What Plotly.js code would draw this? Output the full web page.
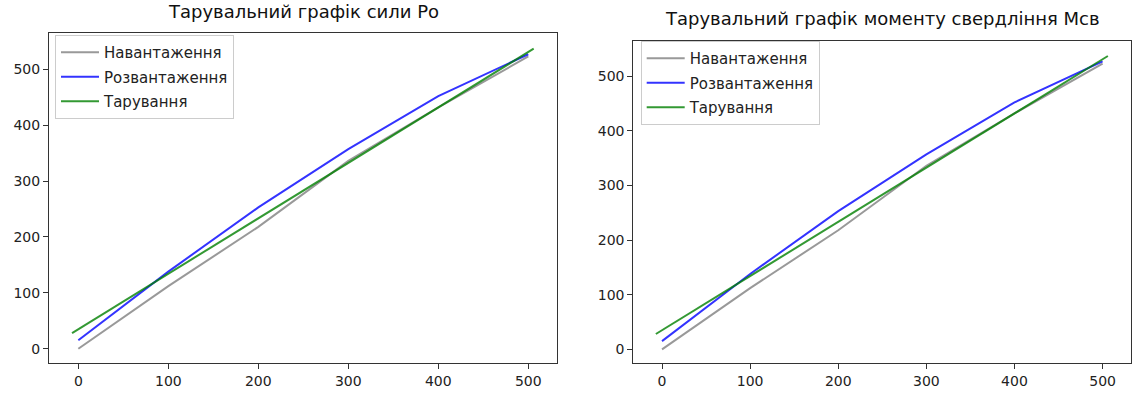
<!DOCTYPE html>
<html>
<head>
<meta charset="utf-8">
<script src="https://cdn.plot.ly/plotly-3.0.1.min.js"></script>
<style>html,body{margin:0;padding:0;background:#fff;}#chart{width:1133px;height:394px;}</style>
</head>
<body>
<div id="chart"></div>
<script>
// Data
const loadX = [0, 100, 200, 300, 400, 500];
const loadY = [0, 112, 218, 336, 432, 523];      // Навантаження
const unloadX = [0, 100, 200, 300, 400, 500];
const unloadY = [15, 138, 253, 357, 452, 527];   // Розвантаження
const tareX = [-7, 506];
const tareY = [28, 537];                          // Тарування
const seriesNames = ['Навантаження', 'Розвантаження', 'Тарування'];
const chartTitles = ['Тарувальний графік сили Ро', 'Тарувальний графік моменту свердління Мсв'];
const tickVals = [0, 100, 200, 300, 400, 500];

const FONT = 'DejaVu Sans, Liberation Sans, sans-serif';
const colors = ['rgba(128,128,128,0.8)', 'rgba(0,0,255,0.8)', 'rgba(0,128,0,0.8)'];

function makeTraces(xa, ya, legendName) {
  const xs = [loadX, unloadX, tareX];
  const ys = [loadY, unloadY, tareY];
  return xs.map((x, i) => ({
    type: 'scatter', mode: 'lines',
    x: x, y: ys[i], name: seriesNames[i],
    xaxis: xa, yaxis: ya, legend: legendName,
    legendgroup: legendName + i,
    line: {color: colors[i], width: 2}
  }));
}

const traces = [].concat(makeTraces('x', 'y', 'legend'), makeTraces('x2', 'y2', 'legend2'));

function axis(domain, range, anchor) {
  return {
    domain: domain, range: range, anchor: anchor,
    showgrid: false, zeroline: false,
    showline: true, mirror: true, linecolor: '#333', linewidth: 1,
    ticks: 'outside', ticklen: 5, tickwidth: 1, tickcolor: '#333',
    tickvals: tickVals, automargin: false,
    tickfont: {family: FONT, size: 14, color: '#222'}
  };
}

const legendStyle = (x, y) => ({
  x: x, y: y, xanchor: 'left', yanchor: 'top',
  bgcolor: 'rgba(255,255,255,0.8)', bordercolor: '#cccccc', borderwidth: 1,
  font: {family: FONT, size: 15, color: '#222'},
  itemwidth: 38,
  tracegroupgap: 2
});

const layout = {
  width: 1133, height: 394,
  margin: {l: 0, r: 0, t: 0, b: 0},
  paper_bgcolor: '#fff', plot_bgcolor: '#fff',
  showlegend: true,
  xaxis: axis([49/1133, 557/1133], [-32.6, 531.9], 'y'),
  yaxis: axis([1 - 363/394, 1 - 33/394], [-25.6, 565], 'x'),
  xaxis2: axis([633.3/1133, 1130.7/1133], [-32.6, 531.9], 'y2'),
  yaxis2: axis([1 - 363.3/394, 1 - 40.7/394], [-25.6, 565], 'x2'),
  legend: legendStyle(55/1133, 1 - 35/394),
  legend2: legendStyle(640.7/1133, 1 - 41/394),
  annotations: [
    {text: chartTitles[0], xref: 'paper', yref: 'paper', x: 303/1133, y: 1 - 24/394,
     xanchor: 'center', yanchor: 'bottom', showarrow: false,
     font: {family: FONT, size: 18, color: '#111'}},
    {text: chartTitles[1], xref: 'paper', yref: 'paper', x: 882/1133, y: 1 - 31.5/394,
     xanchor: 'center', yanchor: 'bottom', showarrow: false,
     font: {family: FONT, size: 18, color: '#111'}}
  ]
};

Plotly.newPlot('chart', traces, layout, {staticPlot: true, displayModeBar: false});
</script>
</body>
</html>
